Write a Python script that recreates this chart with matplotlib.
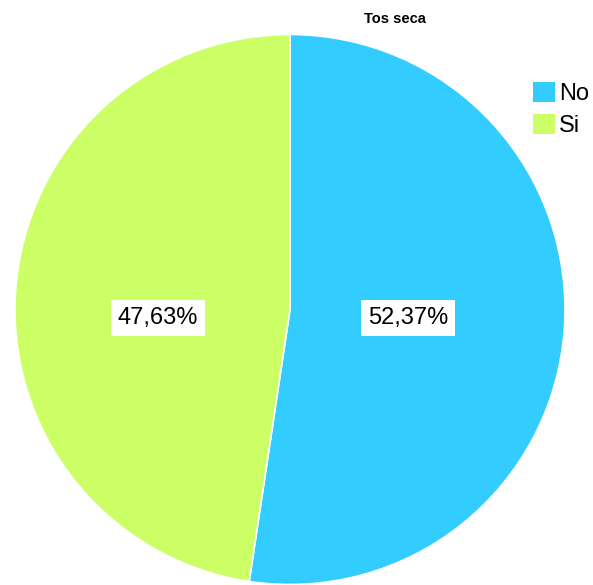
import matplotlib.pyplot as plt
from matplotlib.patches import Patch

plt.rcParams['font.family'] = ['Liberation Sans', 'DejaVu Sans']

categories = ['No', 'Si']
values = [52.37, 47.63]
colors = ['#33ccff', '#ccff66']

fig = plt.figure(figsize=(5.93, 5.85), dpi=100)
W, H = 593, 585
cx, cy, r = 290, 309.5, 275
ax = fig.add_axes([(cx - r) / W, 1 - (cy + r) / H, 2 * r / W, 2 * r / H])

wedges, _ = ax.pie(values, colors=colors, startangle=90, counterclock=False,
                   radius=1, wedgeprops=dict(edgecolor='white', linewidth=1.2))
ax.set_xlim(-1, 1)
ax.set_ylim(-1, 1)
ax.set_aspect('equal')
ax.axis('off')

# percentage labels in white boxes
label_pos = {'No': (0.429, -0.031), 'Si': (-0.48, -0.031)}
for cat, v in zip(categories, values):
    x, y = label_pos[cat]
    ax.text(x, y, f"{v:.2f}%".replace('.', ','), ha='center', va='center',
            fontsize=17, color='black',
            bbox=dict(facecolor='white', edgecolor='none', pad=5))

fig.text(395 / W, 1 - 19 / H, 'Tos seca', ha='center', va='center',
         fontsize=10.5, fontweight='bold')

handles = [Patch(facecolor=c, edgecolor='none') for c in colors]
fig.legend(handles, categories, loc='upper left',
           bbox_to_anchor=(533 / W, 1 - 82 / H), frameon=False, fontsize=17,
           handlelength=0.95, handleheight=0.95, handletextpad=0.15,
           labelspacing=0.35, borderpad=0, borderaxespad=0)

fig.savefig('out.png', dpi=100)
